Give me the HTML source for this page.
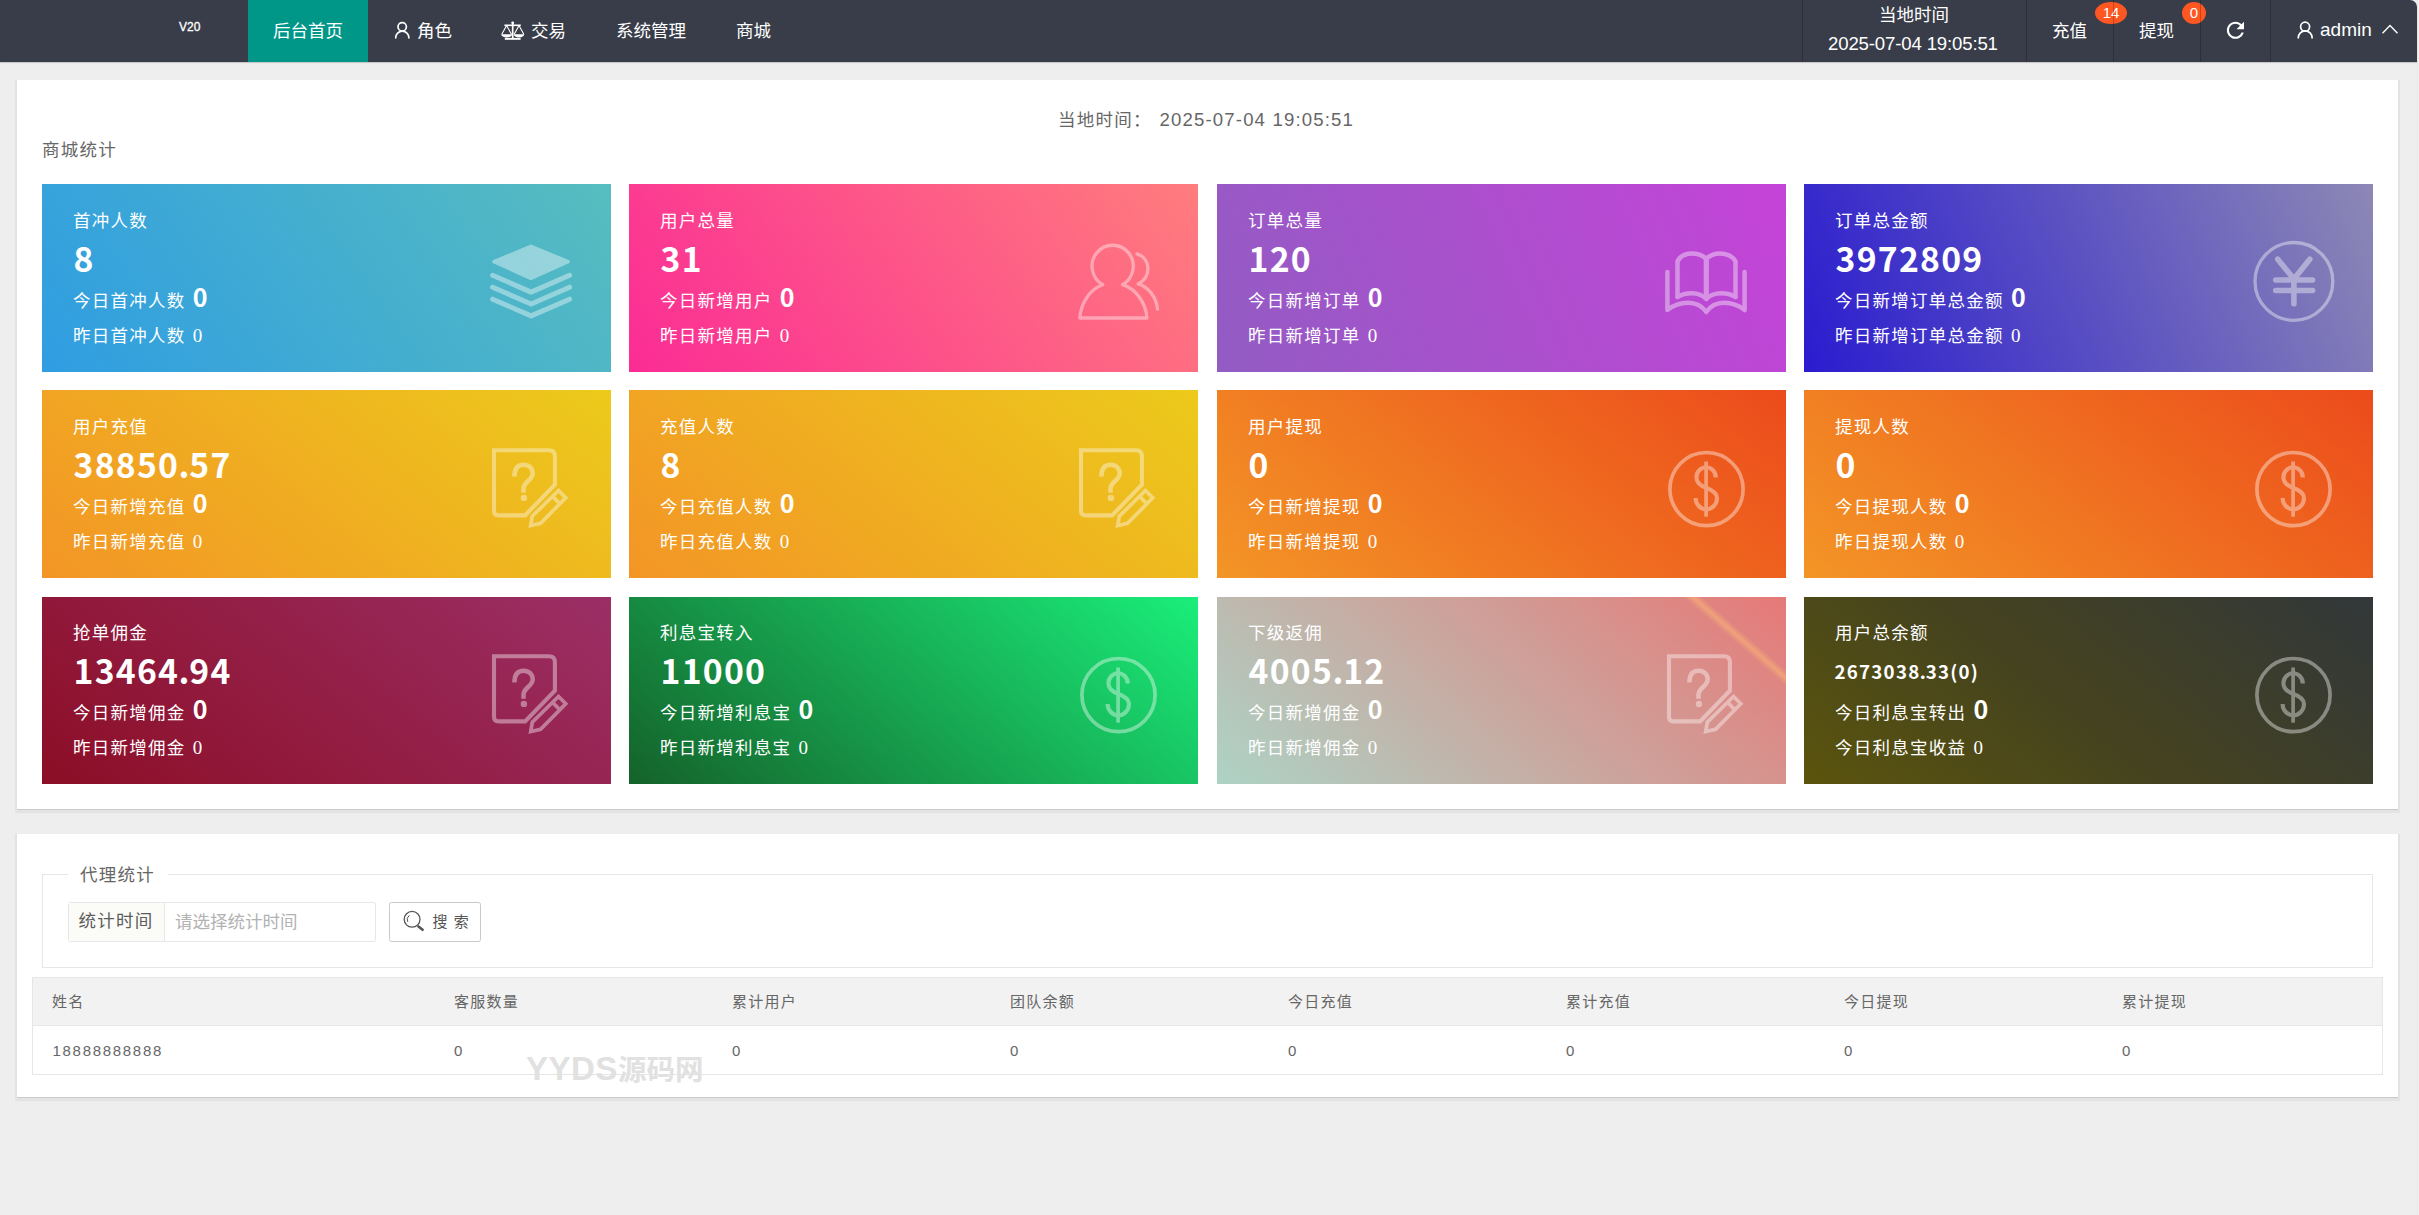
<!DOCTYPE html>
<html lang="zh-CN">
<head>
<meta charset="utf-8">
<title>后台首页</title>
<style>
*{box-sizing:border-box;margin:0;padding:0}
html,body{width:2419px;height:1215px;overflow:hidden}
body{position:relative;background:#eeeeee;font-family:"Liberation Sans","Noto Sans CJK SC",sans-serif;font-size:17.5px;color:#666;-webkit-font-smoothing:antialiased}
.abs{position:absolute}
svg{display:block;overflow:visible}
/* ---------- header ---------- */
#edge{position:absolute;left:2417px;top:0;width:2px;height:1215px;background:linear-gradient(90deg,#e9e9e9 0,#e9e9e9 50%,#f3f3f3 50%,#f3f3f3 100%)}
#hd{position:absolute;left:0;top:0;width:2417px;height:62px;background:#393d49;border-top-right-radius:7px;box-shadow:0 1px 1px rgba(0,0,0,.18);color:#fff}
#hd .t{position:absolute;white-space:nowrap;font-size:17.5px;line-height:20px;color:#fff}
#hd .sep{position:absolute;top:0;width:1px;height:62px;background:rgba(0,0,0,.22);z-index:3}
#hd .act{position:absolute;left:248px;top:0;width:120px;height:62px;background:#009688}
.bdg{position:absolute;top:2px;height:22px;border-radius:50%;background:#ff5722;color:#fff;font-size:15px;line-height:22px;text-align:center}
/* ---------- panels ---------- */
.panel{position:absolute;left:17px;width:2381px;background:#fff;box-shadow:0 1.4px .6px -.3px rgba(0,0,0,.11),0 2px 1px 1.6px rgba(0,0,0,.042)}
.ls{letter-spacing:1.25px}
/* ---------- cards ---------- */
.card{position:absolute;width:569px;height:187.5px;color:#fff;overflow:hidden}
.card div{position:absolute;left:31px;white-space:nowrap;letter-spacing:1.25px;line-height:20px}
.card .c1{top:27px;font-size:17.5px}
.card .c2{top:50px;left:31.5px;font-family:"Noto Sans CJK SC","Liberation Sans",sans-serif;font-size:33.7px;line-height:48px;font-weight:bold}
.card .c3{top:101px;font-size:17.5px;line-height:22px}
.card .c3 b{font-family:"Noto Sans CJK SC","Liberation Sans",sans-serif;font-size:25px;font-weight:bold;margin-left:1px;line-height:22px}
.card .c4{top:141px;font-size:17.5px;line-height:22px}
.card .c4 i{font-style:normal;font-family:"Liberation Serif",serif;font-size:19px;margin-left:1px}
.card .c2 u{text-decoration:none;letter-spacing:-.2px;margin-left:-.6px}
.card.r3 div{margin-top:-1px}
.card.r3 svg{top:44.7px}
.card svg{position:absolute;left:428px;top:46px;width:120px;height:100px}
.ic{fill:none;stroke:rgba(255,255,255,.4);stroke-linecap:round;stroke-linejoin:round}
.icf{fill:rgba(255,255,255,.4);stroke:none}
/* ---------- table ---------- */
#tb{position:absolute;left:32px;top:977px;width:2350.5px;height:97.5px;border:1px solid #e6e6e6;background:#fff}
#tb .th{position:absolute;left:0;top:0;width:100%;height:47.5px;background:#f2f2f2;border-bottom:1px solid #e6e6e6}
#tb span{position:absolute;font-size:15px;line-height:18px;letter-spacing:1.25px;color:#666;white-space:nowrap}
#tb .h{top:15px}
#tb .d{top:64px;letter-spacing:1.7px}
</style>
</head>
<body>
<div id="edge"></div>
<!-- HEADER -->
<div id="hd">
  <div class="t" style="left:179px;top:19px;font-size:12px;line-height:16px;font-weight:normal;-webkit-text-stroke:.3px #fff">V20</div>
  <div class="act"></div>
  <div class="t" style="left:273px;top:21px">后台首页</div>
  <div class="t" style="left:417px;top:21px">角色</div>
  <div class="t" style="left:531px;top:21px">交易</div>
  <div class="t" style="left:616px;top:21px">系统管理</div>
  <div class="t" style="left:736px;top:21px">商城</div>
  <div class="sep" style="left:1802px"></div>
  <div class="sep" style="left:2026px"></div>
  <div class="sep" style="left:2113px"></div>
  <div class="sep" style="left:2200px"></div>
  <div class="sep" style="left:2270px"></div>
  <svg class="abs" style="left:0;top:0" width="2417" height="62" viewBox="0 0 2417 62">
    <g fill="none" stroke="#fff" stroke-width="1.7" stroke-linecap="round">
      <circle cx="402.2" cy="26.8" r="4.2"/><path d="M395.7 37.8A6.6 6.6 0 0 1 408.9 37.8"/>
      <circle cx="2305.1" cy="26.7" r="4.5"/><path d="M2298.3 37.8A6.9 6.9 0 0 1 2312.1 37.8"/>
      <polyline points="2382.5,33.2 2390,25.6 2397.5,33.2" stroke-width="1.4" stroke-linecap="butt"/>
    </g>
    <g fill="#fff" stroke="none">
      <rect x="504.4" y="24.5" width="16.4" height="1.6"/><rect x="511.85" y="22" width="1.7" height="16.4"/><circle cx="512.7" cy="22.8" r="1.4"/><rect x="504.8" y="37.9" width="15.8" height="1.9"/>
      <path d="M501.2 34.2H512.2A5.5 3.2 0 0 1 501.2 34.2ZM513.7 34.2H524.3A5.3 3.2 0 0 1 513.7 34.2Z"/>
    </g>
    <g fill="none" stroke="#fff" stroke-width="1.1" stroke-linejoin="round"><path d="M501.8 34.2L506.6 25.6L511.5 34.2M514.2 34.2L519 25.6L523.8 34.2"/></g>
    <g transform="translate(2222.6,17.4) scale(1.07)" fill="#fff"><path d="M17.65 6.35C16.2 4.9 14.21 4 12 4c-4.42 0-7.99 3.58-7.99 8s3.57 8 7.99 8c3.73 0 6.84-2.55 7.73-6h-2.08c-.82 2.33-3.04 4-5.65 4-3.31 0-6-2.69-6-6s2.69-6 6-6c1.66 0 3.14.69 4.22 1.78L13 11h7V4l-2.35 2.35z"/></g>
  </svg>
  <div class="t" style="left:1879px;top:5px">当地时间</div>
  <div class="t" style="left:1828px;top:34px;font-size:18.6px;letter-spacing:-.15px">2025-07-04 19:05:51</div>
  <div class="t" style="left:2052px;top:21px">充值</div>
  <div class="t" style="left:2139px;top:21px">提现</div>
  <div class="bdg" style="left:2095px;width:32px">14</div>
  <div class="bdg" style="left:2182px;width:24px">0</div>
  <div class="t" style="left:2320px;top:20px;font-size:19px">admin</div>
</div>

<!-- PANEL 1 -->
<div class="panel" style="top:80px;height:729px"></div>
<div class="abs ls" style="left:1058px;top:110px;line-height:20px;white-space:nowrap;color:#666">当地时间：<span style="position:absolute;left:101.5px;top:0;font-size:18.6px;letter-spacing:1.15px">2025-07-04 19:05:51</span></div>
<div class="abs ls" style="left:42px;top:140px;line-height:20px;white-space:nowrap;color:#666">商城统计</div>

<!-- CARDS -->
<div class="card" style="left:42px;top:184px;height:188px;background:linear-gradient(-125deg,#57bdbf,#2f9de2)"><div class="c1">首冲人数</div><div class="c2">8</div><div class="c3">今日首冲人数 <b>0</b></div><div class="c4">昨日首冲人数 <i>0</i></div><svg viewBox="0 0 120 100"><g opacity=".4" fill="none" stroke="#fff" stroke-linecap="round" stroke-linejoin="round"><polygon points="24,31.7 60.9,16.3 98,31.7 60.9,48.3" fill="#fff" stroke-width="3.6"/><polyline points="22.6,45.3 61.1,62.1 99.6,45.3" stroke-width="5"/><polyline points="22.6,57.2 61.1,74 99.6,57.2" stroke-width="5"/><polyline points="22.6,69.2 61.1,85.9 99.6,69.2" stroke-width="5"/></g></svg></div>
<div class="card" style="left:629px;top:184px;height:188px;background:linear-gradient(-125deg,#ff7d7d,#fb2c95)"><div class="c1">用户总量</div><div class="c2">31</div><div class="c3">今日新增用户 <b>0</b></div><div class="c4">昨日新增用户 <i>0</i></div><svg viewBox="0 0 120 100"><g transform="translate(3,0)" opacity=".4" fill="none" stroke="#fff" stroke-width="3.3" stroke-linecap="round" stroke-linejoin="round"><path d="M42.8 54.7A20.6 21 0 1 1 62.5 54.7C75 58.5 86 72 86.9 88H19.8C21 72 31 58.5 42.8 54.7Z"/><path d="M77 23.9C84 26 88 32 87.9 39C87.8 46 84 51 78.2 53.9C88 57 96 66 97.5 79"/></g></svg></div>
<div class="card" style="left:1217px;top:184px;height:188px;background:linear-gradient(-113deg,#c543d8,#925cc3)"><div class="c1">订单总量</div><div class="c2">120</div><div class="c3">今日新增订单 <b>0</b></div><div class="c4">昨日新增订单 <i>0</i></div><svg viewBox="0 0 120 100"><g opacity=".4" fill="none" stroke="#fff" stroke-width="4.5" stroke-linecap="round" stroke-linejoin="round"><path d="M22.4 42V80C30 74 37 72.8 43 72.8C50 72.8 57 76 61.3 82C65.5 76 72 72.8 79 72.8C85 72.8 92 74 99.6 80V42"/><path d="M32.5 67V31.3C35 26 41 23.4 47 23.4C53 23.4 58 25.5 61.3 28.8C64.5 25.5 69 23.4 75 23.4C81 23.4 87.5 26 90.5 31.3V67"/><path d="M61.3 28.8V67" stroke-width="5.2"/><path d="M32.5 67C37 64 42 63.2 47 63.2C53 63.2 58 65.5 61.3 69C64.5 65.5 70 63.2 76 63.2C81 63.2 86 64 90.5 67"/></g></svg></div>
<div class="card" style="left:1804px;top:184px;height:188px;background:linear-gradient(-113deg,#8d88b5,#2a1ccf)"><div class="c1">订单总金额</div><div class="c2">3972809</div><div class="c3">今日新增订单总金额 <b>0</b></div><div class="c4">昨日新增订单总金额 <i>0</i></div><svg viewBox="0 0 120 100"><g opacity=".4" fill="none" stroke="#fff" stroke-linecap="round" stroke-linejoin="round"><circle cx="61.9" cy="51.4" r="38.9" stroke-width="3.3"/><path d="M45.7 29.2L61.9 49L77.8 29.2M61.9 49V73.7" stroke-width="5.6"/><path d="M43.6 50H80.7M43.6 60.5H80.7" stroke-width="5.3"/></g></svg></div>
<div class="card" style="left:42px;top:390px;height:188px;background:linear-gradient(-141deg,#ecca1b,#f39526)"><div class="c1">用户充值</div><div class="c2">38850<u>.</u>57</div><div class="c3">今日新增充值 <b>0</b></div><div class="c4">昨日新增充值 <i>0</i></div><svg viewBox="0 0 120 100"><g opacity=".4" fill="none" stroke="#fff" stroke-linejoin="miter"><path d="M24 14.2H79Q84.9 14.2 84.9 20.2V48.6L55.1 79.4H28.8Q24 79.4 24 74.5Z" stroke-width="4.1"/><path d="M44.4 40.5C44.4 32 48 28.7 53.5 28.7C59 28.7 62.7 32.5 62.7 37.5C62.7 44 53.5 46 53.5 52.5V56.8" stroke-width="4.5"/><circle cx="53.9" cy="61.9" r="3.2" fill="#fff" stroke="none"/><path d="M88.5 54.5L95.75 61.75L70.6 87.3L60.7 89.5L62.3 80.2Z" stroke-width="3.7"/><path d="M82.6 60.4L89.8 67.7" stroke-width="3.7"/></g></svg></div>
<div class="card" style="left:629px;top:390px;height:188px;background:linear-gradient(-141deg,#ecca1b,#f39526)"><div class="c1">充值人数</div><div class="c2">8</div><div class="c3">今日充值人数 <b>0</b></div><div class="c4">昨日充值人数 <i>0</i></div><svg viewBox="0 0 120 100"><g opacity=".4" fill="none" stroke="#fff" stroke-linejoin="miter"><path d="M24 14.2H79Q84.9 14.2 84.9 20.2V48.6L55.1 79.4H28.8Q24 79.4 24 74.5Z" stroke-width="4.1"/><path d="M44.4 40.5C44.4 32 48 28.7 53.5 28.7C59 28.7 62.7 32.5 62.7 37.5C62.7 44 53.5 46 53.5 52.5V56.8" stroke-width="4.5"/><circle cx="53.9" cy="61.9" r="3.2" fill="#fff" stroke="none"/><path d="M88.5 54.5L95.75 61.75L70.6 87.3L60.7 89.5L62.3 80.2Z" stroke-width="3.7"/><path d="M82.6 60.4L89.8 67.7" stroke-width="3.7"/></g></svg></div>
<div class="card" style="left:1217px;top:390px;height:188px;background:linear-gradient(-141deg,#ec4b1b,#f39526)"><div class="c1">用户提现</div><div class="c2">0</div><div class="c3">今日新增提现 <b>0</b></div><div class="c4">昨日新增提现 <i>0</i></div><svg viewBox="0 0 120 100"><g opacity=".4" fill="none" stroke="#fff"><circle cx="61.5" cy="53.1" r="36.6" stroke-width="3.7"/><path d="M61.1 25.5V80.7" stroke-width="3.7"/><path d="M70.8 41.5A9.7 10.2 0 0 0 51.4 41.5C51.4 47.5 56 50 61.5 52C67 54 72 56.5 72 62A10.7 11.3 0 0 1 50.6 62" stroke-width="4.1"/></g></svg></div>
<div class="card" style="left:1804px;top:390px;height:188px;background:linear-gradient(-141deg,#ec4b1b,#f39526)"><div class="c1">提现人数</div><div class="c2">0</div><div class="c3">今日提现人数 <b>0</b></div><div class="c4">昨日提现人数 <i>0</i></div><svg viewBox="0 0 120 100"><g opacity=".4" fill="none" stroke="#fff"><circle cx="61.5" cy="53.1" r="36.6" stroke-width="3.7"/><path d="M61.1 25.5V80.7" stroke-width="3.7"/><path d="M70.8 41.5A9.7 10.2 0 0 0 51.4 41.5C51.4 47.5 56 50 61.5 52C67 54 72 56.5 72 62A10.7 11.3 0 0 1 50.6 62" stroke-width="4.1"/></g></svg></div>
<div class="card r3" style="left:42px;top:597px;height:187px;background:linear-gradient(-141deg,#9b2f66,#8c0e26)"><div class="c1">抢单佣金</div><div class="c2">13464<u>.</u>94</div><div class="c3">今日新增佣金 <b>0</b></div><div class="c4">昨日新增佣金 <i>0</i></div><svg viewBox="0 0 120 100"><g opacity=".4" fill="none" stroke="#fff" stroke-linejoin="miter"><path d="M24 14.2H79Q84.9 14.2 84.9 20.2V48.6L55.1 79.4H28.8Q24 79.4 24 74.5Z" stroke-width="4.1"/><path d="M44.4 40.5C44.4 32 48 28.7 53.5 28.7C59 28.7 62.7 32.5 62.7 37.5C62.7 44 53.5 46 53.5 52.5V56.8" stroke-width="4.5"/><circle cx="53.9" cy="61.9" r="3.2" fill="#fff" stroke="none"/><path d="M88.5 54.5L95.75 61.75L70.6 87.3L60.7 89.5L62.3 80.2Z" stroke-width="3.7"/><path d="M82.6 60.4L89.8 67.7" stroke-width="3.7"/></g></svg></div>
<div class="card r3" style="left:629px;top:597px;height:187px;background:linear-gradient(-141deg,#1aee7a,#14622a)"><div class="c1">利息宝转入</div><div class="c2">11000</div><div class="c3">今日新增利息宝 <b>0</b></div><div class="c4">昨日新增利息宝 <i>0</i></div><svg viewBox="0 0 120 100"><g opacity=".4" fill="none" stroke="#fff"><circle cx="61.5" cy="53.1" r="36.6" stroke-width="3.7"/><path d="M61.1 25.5V80.7" stroke-width="3.7"/><path d="M70.8 41.5A9.7 10.2 0 0 0 51.4 41.5C51.4 47.5 56 50 61.5 52C67 54 72 56.5 72 62A10.7 11.3 0 0 1 50.6 62" stroke-width="4.1"/></g></svg></div>
<div class="card r3" style="left:1217px;top:597px;height:187px;background:linear-gradient(-139deg,#e67978 0%,#e08380 10.7%,#f0a27a 11.9%,#df8582 13.1%,#add3c5 100%)"><div class="c1">下级返佣</div><div class="c2">4005<u>.</u>12</div><div class="c3">今日新增佣金 <b>0</b></div><div class="c4">昨日新增佣金 <i>0</i></div><svg viewBox="0 0 120 100"><g opacity=".4" fill="none" stroke="#fff" stroke-linejoin="miter"><path d="M24 14.2H79Q84.9 14.2 84.9 20.2V48.6L55.1 79.4H28.8Q24 79.4 24 74.5Z" stroke-width="4.1"/><path d="M44.4 40.5C44.4 32 48 28.7 53.5 28.7C59 28.7 62.7 32.5 62.7 37.5C62.7 44 53.5 46 53.5 52.5V56.8" stroke-width="4.5"/><circle cx="53.9" cy="61.9" r="3.2" fill="#fff" stroke="none"/><path d="M88.5 54.5L95.75 61.75L70.6 87.3L60.7 89.5L62.3 80.2Z" stroke-width="3.7"/><path d="M82.6 60.4L89.8 67.7" stroke-width="3.7"/></g></svg></div>
<div class="card r3" style="left:1804px;top:597px;height:187px;background:linear-gradient(-141deg,#32373a,#45431f 55%,#5b540d)"><div class="c1">用户总余额</div><div class="c2" style="font-size:18.7px;top:51px;left:30.5px">2673038<u>.</u>33(0)</div><div class="c3">今日利息宝转出 <b>0</b></div><div class="c4">今日利息宝收益 <i>0</i></div><svg viewBox="0 0 120 100"><g opacity=".4" fill="none" stroke="#fff"><circle cx="61.5" cy="53.1" r="36.6" stroke-width="3.7"/><path d="M61.1 25.5V80.7" stroke-width="3.7"/><path d="M70.8 41.5A9.7 10.2 0 0 0 51.4 41.5C51.4 47.5 56 50 61.5 52C67 54 72 56.5 72 62A10.7 11.3 0 0 1 50.6 62" stroke-width="4.1"/></g></svg></div>

<!-- PANEL 2 -->
<div class="panel" style="top:834px;height:262.5px"></div>
<div class="abs" style="left:42px;top:874px;width:2331px;height:94px;border:1px solid #e6e6e6"></div>
<div class="abs ls" style="left:68px;top:862px;width:100px;height:26px;background:#fff;padding-left:12px;line-height:26px;white-space:nowrap;color:#666">代理统计</div>
<div class="abs" style="left:68px;top:902px;width:308px;height:40px;border:1px solid #e6e6e6;border-radius:2.5px;background:#fff"></div>
<div class="abs ls" style="left:69px;top:903px;width:96px;height:38px;background:#fbfbf8;border-right:1px solid #e6e6e6;padding-left:9.5px;line-height:37.5px;white-space:nowrap;color:#5c5c5c">统计时间</div>
<div class="abs" style="left:175px;top:903px;height:38px;line-height:39px;white-space:nowrap;color:#b2b2b2">请选择统计时间</div>
<div class="abs" style="left:389px;top:902px;width:92px;height:40px;border:1px solid #c9c9c9;border-radius:2.5px;background:#fff"></div>
<svg class="abs" style="left:400px;top:908px" width="28" height="26" viewBox="400 908 28 26"><g fill="none" stroke="#555" stroke-width="1.3" stroke-linecap="round"><circle cx="412.1" cy="919.3" r="7.9"/><path d="M407.6 921.5A4.8 4.8 0 0 1 409 915.6" stroke-width="1"/><path d="M418.4 926.4L422.6 929.8" stroke-width="2.6"/></g></svg>
<div class="abs" style="left:432.5px;top:912px;font-size:15px;line-height:19px;white-space:nowrap;color:#555;word-spacing:2px">搜 索</div>
<div id="tb"><div class="th"></div>
<span class="h" style="left:19px">姓名</span><span class="h" style="left:421px">客服数量</span><span class="h" style="left:699px">累计用户</span><span class="h" style="left:977px">团队余额</span><span class="h" style="left:1255px">今日充值</span><span class="h" style="left:1533px">累计充值</span><span class="h" style="left:1811px">今日提现</span><span class="h" style="left:2089px">累计提现</span>
<span class="d" style="left:19.5px">18888888888</span><span class="d" style="left:421px">0</span><span class="d" style="left:699px">0</span><span class="d" style="left:977px">0</span><span class="d" style="left:1255px">0</span><span class="d" style="left:1533px">0</span><span class="d" style="left:1811px">0</span><span class="d" style="left:2089px">0</span>
</div>
<div class="abs" style="left:526px;top:1049px;line-height:40px;white-space:nowrap;color:#e1e1e1;font-weight:bold;font-size:28.5px;letter-spacing:0"><span style="font-size:33px;letter-spacing:.5px">YYDS</span>源码网</div>

</body>
</html>
